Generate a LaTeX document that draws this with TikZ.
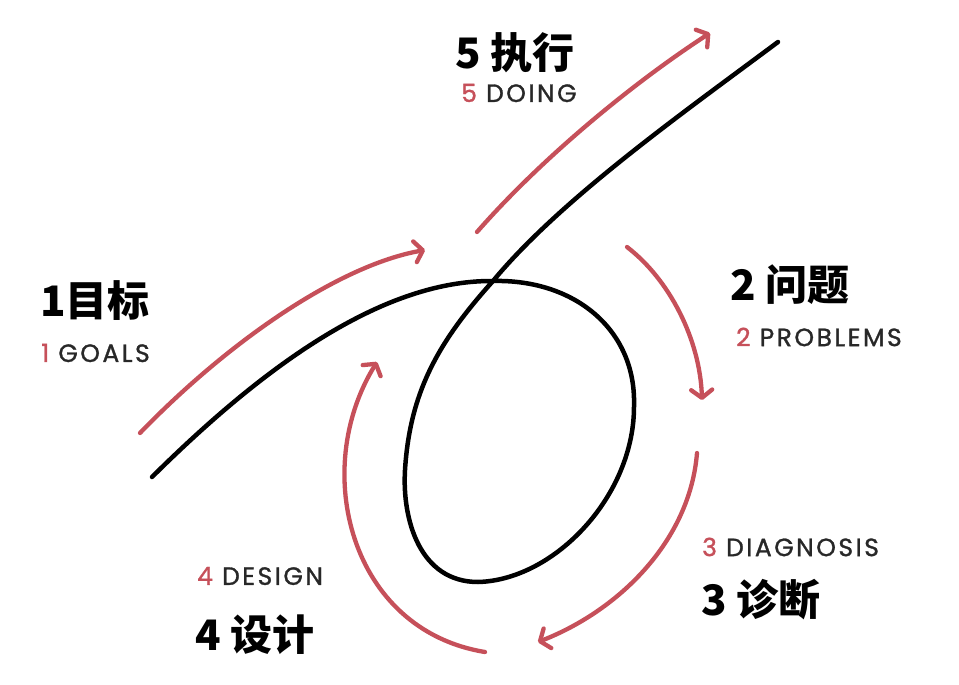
\documentclass[tikz,border=0pt]{standalone}
\usepackage{fontspec}
\usetikzlibrary{arrows.meta}
\newfontfamily\cjk{Noto Sans CJK SC}
\newfontfamily\enfont[LetterSpace=10,FakeBold=1.2]{Poppins}
\definecolor{cred}{RGB}{198,80,90}
\definecolor{cgray}{RGB}{40,40,40}
\tikzset{
  redarrow/.style={draw=cred, line width=4.3pt, line cap=round,
    -{Straight Barb[length=8pt,width=21pt,line cap=round,line join=round]}},
  blackcurve/.style={draw=black, line width=4.5pt, line cap=round},
  cnlabel/.style={anchor=west, inner sep=0pt, font=\cjk\bfseries\fontsize{42}{42}\selectfont},
  enlabel/.style={anchor=west, inner sep=0pt, text=cgray, font=\enfont\fontsize{25}{25}\selectfont}
}
\begin{document}
\begin{tikzpicture}[x=1pt,y=-1pt]
\fill[white] (0,0) rectangle (959,685);
\useasboundingbox (0,0) rectangle (959,685);
% black curve
\coordinate (bs) at (152,477);
\coordinate (bx) at (493,281);
\coordinate (br) at (634,405);
\coordinate (bb) at (478,582);
\coordinate (bl) at (405,470);
\coordinate (be) at (778,42);
\path[blackcurve] (bs) .. controls (260,370) and (380,280) .. (bx)
  .. controls (575,279) and (636,330) .. (br)
  .. controls (635,495) and (555,580) .. (bb)
  .. controls (420,582) and (402,520) .. (bl)
  .. controls (410,390) and (440,340) .. (bx)
  .. controls (560,200) and (680,115) .. (be);
% red arrows
\coordinate (a1s) at (140,433); \coordinate (a1e) at (425,250);
\coordinate (a5s) at (477,232); \coordinate (a5e) at (710,33);
\coordinate (a2s) at (627,247); \coordinate (a2e) at (702,400);
\coordinate (a3s) at (697,453); \coordinate (a3e) at (538,642);
\coordinate (a4s) at (485,652); \coordinate (a4e) at (377,362);
\path[redarrow] (a1s) .. controls (230,340) and (340,265) .. (a1e);
\path[redarrow] (a5s) .. controls (540,160) and (630,85) .. (a5e);
\path[redarrow] (a2s) .. controls (670,280) and (700,340) .. (a2e);
\path[redarrow] (a3s) .. controls (690,540) and (620,610) .. (a3e);
\path[redarrow] (a4s) .. controls (350,630) and (310,470) .. (a4e);
% labels
\node[cnlabel] (c5) at (455,53) {5 执行};
\node[enlabel] (e5) at (461,93) {\textcolor{cred}{5} DOING};
\node[cnlabel] (c1) at (40,301) {1目标};
\node[enlabel] (e1) at (41,353) {\textcolor{cred}{1} GOALS};
\node[cnlabel] (c2) at (730,285) {2 问题};
\node[enlabel] (e2) at (736,337) {\textcolor{cred}{2} PROBLEMS};
\node[enlabel] (e3) at (702,547) {\textcolor{cred}{3} DIAGNOSIS};
\node[cnlabel] (c3) at (701,600) {3 诊断};
\node[enlabel] (e4) at (197,576) {\textcolor{cred}{4} DESIGN};
\node[cnlabel] (c4) at (195,635) {4 设计};
\end{tikzpicture}
\end{document}
